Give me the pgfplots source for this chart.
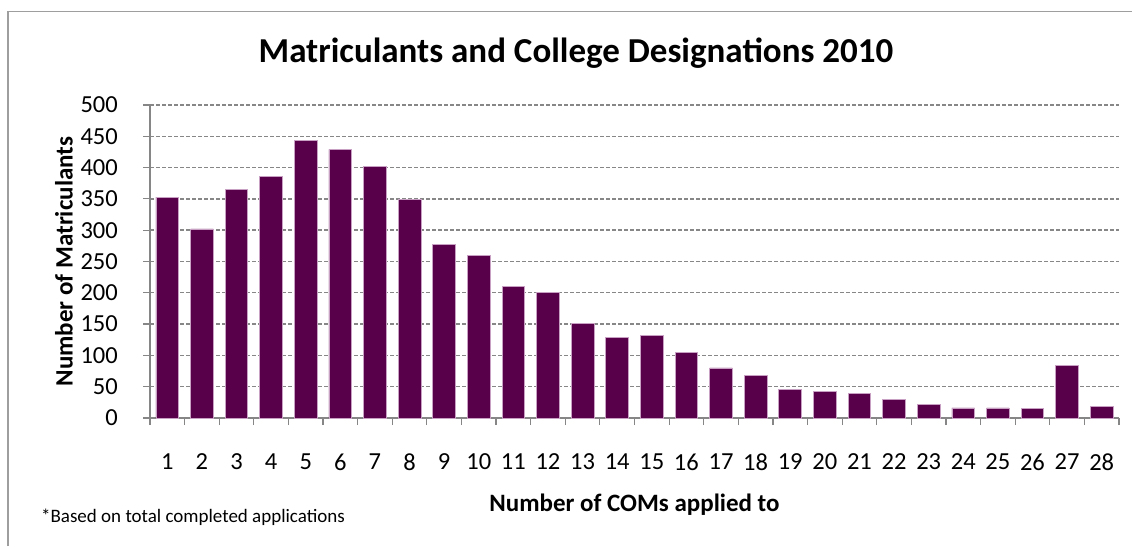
\documentclass[border=0pt]{standalone}
\usepackage{pgfplots}
\pgfplotsset{compat=1.18}
\usepackage{fontspec}
\setmainfont{Carlito}
\definecolor{barcol}{RGB}{89,0,75}
\definecolor{baredge}{RGB}{200,160,195}
\definecolor{axgray}{RGB}{134,134,134}
\definecolor{gridgray}{RGB}{135,135,135}
\begin{document}
\begin{tikzpicture}[x=1pt,y=1pt]
\useasboundingbox (0,0) rectangle (1132,546);
\draw[color=axgray!80, line width=1.5pt] (8,0) -- (8,534.5) -- (1132,534.5);
\begin{axis}[
  at={(150pt,128pt)}, anchor=south west,
  scale only axis, width=969pt, height=313pt,
  xmin=0.5, xmax=28.5, ymin=0, ymax=500,
  axis x line*=bottom, axis y line*=left,
  axis line style={color=axgray, line width=1.3pt, -},
  xtick={1,...,28},
  minor xtick={0.5,1.5,...,28.5},
  ytick={0,50,...,500},
  major x tick style={draw=none},
  minor x tick style={color=axgray, line width=1.2pt},
  y tick style={color=axgray, line width=1.2pt},
  tick align=outside,
  major tick length=7pt, minor tick length=7pt,
  ymajorgrids,
  grid style={color=gridgray, line width=1.4pt, dash pattern=on 4pt off 2pt},
  /pgf/number format/assume math mode=true,
  ticklabel style={font=\fontsize{24.5}{27}\selectfont},
  xticklabel style={anchor=center, yshift=-37pt, inner sep=0pt},
  yticklabel style={anchor=east, xshift=-25pt, inner sep=0pt},
  title={Matriculants and College Designations 2010},
  title style={font=\fontsize{35}{40}\selectfont\bfseries, at={(axis description cs:0.4396,1.145)}, anchor=center},
  xlabel={Number of COMs applied to},
  xlabel style={font=\fontsize{25}{28}\selectfont\bfseries, at={(axis description cs:0.5,-0.278)}, anchor=center},
  ylabel={Number of Matriculants},
  ylabel style={font=\fontsize{25}{28}\selectfont\bfseries, at={(axis description cs:-0.0888,0.5)}, anchor=center, rotate=0},
  clip=false,
]
\addplot[ybar, bar width=22.7pt, bar shift=0pt, fill=barcol, draw=baredge, line width=0.8pt] coordinates {
(1,353) (2,302) (3,365) (4,386) (5,443) (6,429) (7,402) (8,349) (9,277) (10,260)
(11,210) (12,201) (13,151) (14,129) (15,132) (16,105) (17,80) (18,68) (19,45) (20,43)
(21,39) (22,30) (23,21) (24,16) (25,16) (26,15) (27,84) (28,19)
};
\node[font=\fontsize{19}{23}\selectfont, anchor=center] at (axis description cs:0.0444,-0.316) {*Based on total completed applications};
\end{axis}
\end{tikzpicture}
\end{document}
